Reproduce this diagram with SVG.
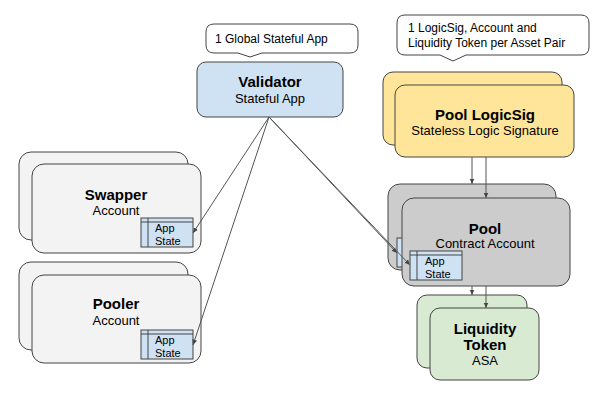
<svg xmlns="http://www.w3.org/2000/svg" width="611" height="400" viewBox="0 0 611 400">
<defs>
<marker id="ah" viewBox="0 0 10 10" refX="9" refY="5" markerWidth="6" markerHeight="6" orient="auto" markerUnits="userSpaceOnUse">
<path d="M0,1 L9,5 L0,9 z" fill="#444"/>
</marker>
</defs>
<style>
text{font-family:"Liberation Sans",Arial,sans-serif;fill:#000}
.t{font-size:15px;font-weight:bold;text-anchor:middle}
.s{font-size:13px;text-anchor:middle}
.c{font-size:12px}
.a{font-size:11px}
.box{stroke:#444;stroke-width:1}
.blue{fill:#cfe2f3}.yel{fill:#ffe599}.gray{fill:#cccccc}.grn{fill:#d9ead3}.lg{fill:#f3f3f3}
.call{fill:#fff;stroke:#444;stroke-width:1}
.ln{stroke:#555;stroke-width:1;fill:none}
</style>
<rect width="611" height="400" fill="#fff"/>
<g id="callout-validator">
<path class="call" d="M214,24 H350 Q358,24 358,32 V45 Q358,53 350,53 H262 L250,57 L238,53 H214 Q206,53 206,45 V32 Q206,24 214,24 Z"/>
<text class="c" x="215" y="43">1 Global Stateful App</text>
</g>
<g id="callout-pool">
<path class="call" d="M405,15 H581 Q589,15 589,23 V47 Q589,55 581,55 H466 L453,61 L440,55 H405 Q397,55 397,47 V23 Q397,15 405,15 Z"/>
<text class="c" x="408" y="32">1 LogicSig, Account and</text>
<text class="c" x="408" y="47">Liquidity Token per Asset Pair</text>
</g>
<g id="validator">
<rect class="box blue" x="197" y="62" width="146" height="55" rx="9"/>
<text class="t" x="270" y="87">Validator</text>
<text class="s" x="270" y="103">Stateful App</text>
</g>
<g id="pool-logicsig">
<rect class="box yel" x="383" y="72" width="179" height="73" rx="10"/>
<rect class="box yel" x="395" y="85" width="179" height="72" rx="10"/>
<text class="t" x="485" y="120">Pool LogicSig</text>
<text class="s" x="485" y="135">Stateless Logic Signature</text>
</g>
<g id="swapper">
<rect class="box lg" x="19" y="152" width="169" height="88" rx="12"/>
<rect class="box lg" x="32" y="164" width="169" height="89" rx="12"/>
<text class="t" x="116" y="200">Swapper</text>
<text class="s" x="116" y="215">Account</text>
<rect class="box blue" x="141" y="218" width="52" height="29"/>
<line class="box" x1="148" y1="218" x2="148" y2="247"/>
<line class="box" x1="141" y1="222" x2="193" y2="222"/>
<text class="a" x="155" y="232">App</text>
<text class="a" x="155" y="245">State</text>
</g>
<g id="pooler">
<rect class="box lg" x="19" y="262" width="169" height="88" rx="12"/>
<rect class="box lg" x="32" y="275" width="169" height="88" rx="12"/>
<text class="t" x="116" y="309">Pooler</text>
<text class="s" x="116" y="325">Account</text>
<rect class="box blue" x="141" y="330" width="52" height="29"/>
<line class="box" x1="148" y1="330" x2="148" y2="359"/>
<line class="box" x1="141" y1="334" x2="193" y2="334"/>
<text class="a" x="155" y="344">App</text>
<text class="a" x="155" y="357">State</text>
</g>
<g id="pool">
<rect class="box gray" x="388" y="184" width="168" height="86" rx="12"/>
<rect class="box blue" x="397" y="238" width="20" height="29"/>
<rect class="box gray" x="402" y="198" width="168" height="88" rx="12"/>
<text class="t" x="485" y="234">Pool</text>
<text class="s" x="485" y="248">Contract Account</text>
<rect class="box blue" x="410" y="251" width="52" height="29"/>
<line class="box" x1="417" y1="251" x2="417" y2="280"/>
<line class="box" x1="410" y1="255" x2="462" y2="255"/>
<text class="a" x="425" y="265">App</text>
<text class="a" x="425" y="278">State</text>
</g>
<g id="liquidity-token">
<rect class="box grn" x="417" y="295" width="110" height="73" rx="10"/>
<rect class="box grn" x="430" y="308" width="109" height="72" rx="10"/>
<text class="t" x="485" y="334">Liquidity</text>
<text class="t" x="485" y="350">Token</text>
<text class="s" x="485" y="365">ASA</text>
</g>
<g id="connectors">
<line class="ln" x1="269" y1="117" x2="193" y2="233" marker-end="url(#ah)"/>
<line class="ln" x1="269" y1="117" x2="193" y2="345" marker-end="url(#ah)"/>
<line class="ln" x1="269" y1="117" x2="397" y2="253" marker-end="url(#ah)"/>
<line class="ln" x1="269" y1="117" x2="410" y2="265" marker-end="url(#ah)"/>
<line class="ln" x1="472" y1="157" x2="472" y2="184" marker-end="url(#ah)"/>
<line class="ln" x1="486" y1="157" x2="486" y2="198" marker-end="url(#ah)"/>
<line class="ln" x1="472" y1="286" x2="472" y2="295" marker-end="url(#ah)"/>
<line class="ln" x1="486" y1="286" x2="486" y2="308" marker-end="url(#ah)"/>
</g>
</svg>
